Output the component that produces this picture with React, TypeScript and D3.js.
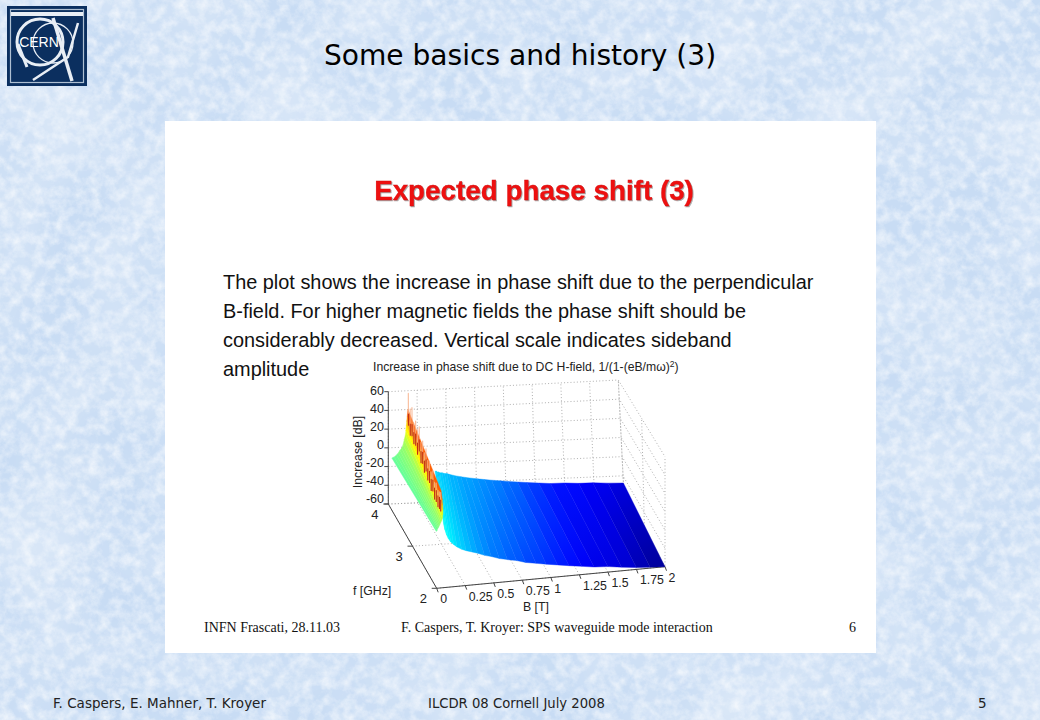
import React from 'react';
import * as d3 from 'd3';

// values
const bTicks = [0, 0.25, 0.5, 0.75, 1, 1.25, 1.5, 1.75, 2];
const fTicks = [2, 3, 4];
const zTicks = [-60, -40, -20, 0, 20, 40, 60];

// surface right of the resonance: one column per band, front edge f=2, back edge f=4
const tailBFront = [0.064, 0.075, 0.09, 0.105, 0.125, 0.15, 0.18, 0.22, 0.26, 0.31, 0.36, 0.42, 0.48, 0.55, 0.62, 0.7, 0.78, 0.87, 0.96, 1.06, 1.16, 1.27, 1.38, 1.5, 1.62, 1.75, 1.87, 2];
const tailZFront = [10, 3, -3, -7, -11, -14, -17, -20, -22, -24, -26, -29, -31, -34, -36, -38, -41, -43, -45, -47, -49, -51, -53, -54, -56, -58, -59, -60];
const tailBBack = [0.4, 0.41, 0.42, 0.43, 0.44, 0.46, 0.48, 0.5, 0.52, 0.55, 0.58, 0.62, 0.66, 0.71, 0.76, 0.82, 0.88, 0.95, 1.02, 1.1, 1.18, 1.28, 1.38, 1.5, 1.62, 1.74, 1.87, 2];
const tailZBack = [-27, -27, -28, -28, -29, -29, -30, -30, -31, -32, -33, -34, -35, -36, -37, -38, -39, -40, -41, -42, -43, -44, -45, -45, -46, -46, -47, -47.5];
const tailLevelBack = [-20, -20, -21, -21, -21, -22, -22, -23, -24, -24, -25, -26, -26, -27, -28, -29, -30, -32, -33, -36, -38, -41, -43, -44, -46, -47, -49];
const tailLevelFront = [-14, -14, -15, -16, -17, -18, -20, -21, -23, -25, -27, -29, -31, -32, -34, -35, -37, -38, -40, -42, -44, -46, -48, -49, -51, -55, -58];

// surface left of the resonance
const wingBBack = [0.03, 0.05, 0.07, 0.085, 0.1, 0.115, 0.127, 0.137, 0.147, 0.152, 0.156, 0.16, 0.164, 0.17];
const wingZBack = [-11, -10, -8, -6, -3, -1, 2.5, 8, 13, 18, 23, 28, 33, 40];
const wingBFront = [0, 0.006, 0.012, 0.018, 0.024, 0.03, 0.038, 0.046, 0.053, 0.056, 0.058, 0.056, 0.053, 0.044];
const wingZFront = [2, 3, 5, 6, 7.5, 9, 11, 13, 16, 20, 25, 30, 36, 46];
const wingLevels = [-3, -2, -1, 0, 1, 2, 4, 7, 11, 16, 21, 27, 34, 42];

// spikes along the resonance ridge
const spikeF = [3.98, 3.88, 3.78, 3.68, 3.58, 3.48, 3.38, 3.28, 3.18, 3.08, 2.98, 2.88, 2.78, 2.68, 2.58, 2.48, 2.38, 2.28, 2.18, 2.08];
const spikeB = [0.17, 0.165, 0.16, 0.155, 0.15, 0.145, 0.14, 0.134, 0.128, 0.122, 0.116, 0.11, 0.104, 0.098, 0.092, 0.086, 0.08, 0.074, 0.066, 0.056];
const spikeTop = [58, 46, 52, 40, 47, 42, 50, 38, 44, 36, 45, 37, 41, 34, 40, 32, 36, 33, 36, 40];
const spikeDark = [36, 30, 34, 30, 33, 28, 36, 28, 32, 27, 33, 28, 30, 26, 30, 26, 28, 27, 30, 32];

const bodyLines = [
  'The plot shows the increase in phase shift due to the perpendicular',
  'B-field. For higher magnetic fields the phase shift should be',
  'considerably decreased. Vertical scale indicates sideband',
  'amplitude',
];

const uScale = d3.scaleLinear().domain([0, 2]).range([0, 1]);
const vScale = d3.scaleLinear().domain([2, 4]).range([0, 1]);
const wScale = d3.scaleLinear().domain([-60, 60]).range([0, 1]);
const zLabelY = d3.scaleLinear().domain([-60, 60]).range([498.3, 390.7]);

const jet = d3.scaleLinear<string>()
  .domain([-60, -45, -15, 15, 45, 60])
  .range(['#00008f', '#0000ff', '#00ffff', '#ffff00', '#ff0000', '#800000']);

// box corners on the page: [B end][f end][z end]
const corners = [
  [[[436.7, 588.3], [436, 478.3]], [[388.3, 504], [388.3, 391.7]]],
  [[[665, 566.7], [665, 456.7]], [[624, 495], [618.3, 380]]],
];

const project = (b: number, f: number, z: number): [number, number] => {
  const u = uScale(b), v = vScale(f), w = wScale(z);
  const axis = (k: number) => {
    const lerp = (a: number, c: number, t: number) => a + (c - a) * t;
    const lo = lerp(lerp(corners[0][0][0][k], corners[1][0][0][k], u), lerp(corners[0][1][0][k], corners[1][1][0][k], u), v);
    const hi = lerp(lerp(corners[0][0][1][k], corners[1][0][1][k], u), lerp(corners[0][1][1][k], corners[1][1][1][k], u), v);
    return lerp(lo, hi, w);
  };
  return [axis(0), axis(1)];
};

const seg = d3.line();
const quad = (p: [number, number][]) => seg(p) + 'Z';

const sans = '"Liberation Sans", Arial, sans-serif';
const serif = '"Liberation Serif", "Times New Roman", serif';
const slideFont = '"DejaVu Sans", Verdana, sans-serif';

const App: React.FC = () => {
  const tailCols = d3.range(tailBFront.length - 1);
  const wingCols = d3.range(wingBBack.length - 1);
  const gridStyle = { stroke: '#9a9a9a', strokeWidth: 0.8, strokeDasharray: '1 2.2', fill: 'none' };

  return (
    <svg width={1040} height={720} viewBox="0 0 1040 720" style={{ position: 'absolute', left: 0, top: 0 }}>
      <defs>
        <filter id="paper" x="0" y="0" width="100%" height="100%">
          <feTurbulence type="fractalNoise" baseFrequency="0.09" numOctaves={5} seed={7} />
          <feColorMatrix type="matrix" values="0 0 0 0 1  0 0 0 0 1  0 0 0 0 1  1.2 0 0 0 -0.42" />
        </filter>
        <filter id="cloud" x="0" y="0" width="100%" height="100%">
          <feTurbulence type="fractalNoise" baseFrequency="0.012" numOctaves={2} seed={3} />
          <feColorMatrix type="matrix" values="0 0 0 0 1  0 0 0 0 1  0 0 0 0 1  0.6 0 0 0 -0.2" />
        </filter>
        {tailCols.map(i => {
          const a = project((tailBBack[i] + tailBBack[i + 1]) / 2, 4, tailZBack[i]);
          const c = project((tailBFront[i] + tailBFront[i + 1]) / 2, 2, tailZFront[i]);
          return (
            <linearGradient key={i} id={`tail${i}`} gradientUnits="userSpaceOnUse" x1={a[0]} y1={a[1]} x2={c[0]} y2={c[1]}>
              <stop offset="0" stopColor={jet(tailLevelBack[i])} />
              <stop offset="1" stopColor={jet(tailLevelFront[i])} />
            </linearGradient>
          );
        })}
      </defs>

      <rect width={1040} height={720} fill="#c8dcf4" />
      <rect width={1040} height={720} filter="url(#cloud)" />
      <rect width={1040} height={720} filter="url(#paper)" />

      {/* CERN logo */}
      <rect x={7} y={6} width={80} height={80} fill="#0b2f5f" />
      <rect x={10.5} y={9.5} width={73} height={73} fill="none" stroke="#aebfd2" strokeWidth={1.2} />
      <g fill="none" stroke="#e8eef5">
        <circle cx={40} cy={42} r={23} strokeWidth={3} />
        <circle cx={53} cy={43} r={20} strokeWidth={1.3} />
        <path d="M11 14H83" strokeWidth={4} />
        <path d="M53 18L72 81" strokeWidth={3.5} />
        <path d="M78 23L68 57L33 80" strokeWidth={2.5} />
        <path d="M18 44L27 67" strokeWidth={3} />
      </g>
      <text x={39} y={47} textAnchor="middle" fontFamily={sans} fontSize={14} fill="#fff">CERN</text>

      <text x={520} y={65} textAnchor="middle" fontFamily={slideFont} fontSize={28.1} fill="#000">Some basics and history (3)</text>

      <rect x={165} y={121} width={711} height={532} fill="#fff" />

      <text x={534} y={200} textAnchor="middle" fontFamily={sans} fontSize={27.8} fontWeight="bold" fill="#ee1010" stroke="#d01010" strokeWidth={0.3} style={{ filter: 'drop-shadow(1.5px 1.5px 0.6px #aaa)' }}>Expected phase shift (3)</text>

      {bodyLines.map((t, i) => (
        <text key={i} x={223} y={289 + i * 29} fontFamily={sans} fontSize={19.9} fill="#111">{t}</text>
      ))}

      <text x={373} y={371} fontFamily={sans} fontSize={12.2} fill="#222">
        Increase in phase shift due to DC H-field, 1/(1-(eB/mω)
        <tspan dy={-4} fontSize={8.5}>2</tspan>
        <tspan dy={4}>)</tspan>
      </text>

      {/* back wall, side wall and floor */}
      <g {...gridStyle}>
        {bTicks.map(b => (
          <path key={`bw${b}`} d={seg([project(b, 4, -60), project(b, 4, 60)]) ?? ''} />
        ))}
        {zTicks.map(z => (
          <path key={`zw${z}`} d={seg([project(0, 4, z), project(2, 4, z), project(2, 2, z)]) ?? ''} />
        ))}
        {fTicks.map(f => (
          <path key={`fw${f}`} d={seg([project(0, f, -60), project(2, f, -60), project(2, f, 60)]) ?? ''} />
        ))}
        {bTicks.map(b => (
          <path key={`bf${b}`} d={seg([project(b, 2, -60), project(b, 4, -60)]) ?? ''} />
        ))}
      </g>

      {/* axes */}
      <g fill="none" stroke="#444" strokeWidth={1}>
        <path d={seg([project(0, 4, 60), project(0, 4, -60), project(0, 2, -60), project(2, 2, -60)]) ?? ''} />
        {zTicks.map(z => {
          const p = project(0, 4, z);
          return <path key={z} d={`M${p[0]} ${p[1]}h-4`} />;
        })}
        {bTicks.map(b => {
          const p = project(b, 2, -60);
          return <path key={b} d={`M${p[0]} ${p[1]}l1.5 4`} />;
        })}
        {fTicks.map(f => {
          const p = project(0, f, -60);
          return <path key={f} d={`M${p[0]} ${p[1]}h-5`} />;
        })}
      </g>

      {/* surface */}
      {tailCols.map(i => {
        const pts: [number, number][] = [
          project(tailBBack[i], 4, tailZBack[i]),
          project(tailBBack[i + 1], 4, tailZBack[i + 1]),
          project(tailBFront[i + 1], 2, tailZFront[i + 1]),
          project(tailBFront[i], 2, tailZFront[i]),
        ];
        return <path key={i} d={quad(pts)} fill={`url(#tail${i})`} stroke={`url(#tail${i})`} strokeWidth={0.4} />;
      })}
      {wingCols.map(i => {
        const pts: [number, number][] = [
          project(wingBBack[i], 4, wingZBack[i]),
          project(wingBBack[i + 1], 4, wingZBack[i + 1]),
          project(wingBFront[i + 1], 2, wingZFront[i + 1]),
          project(wingBFront[i], 2, wingZFront[i]),
        ];
        return <path key={i} d={quad(pts)} fill={jet(wingLevels[i])} stroke={jet(wingLevels[i])} strokeWidth={0.4} />;
      })}
      {spikeF.map((f, i) => (
        <g key={i} fill="none" strokeLinecap="round">
          <path d={seg([project(spikeB[i], f, spikeDark[i] - 12), project(spikeB[i], f, spikeTop[i])]) ?? ''} stroke="#f8b08a" strokeWidth={1.2} opacity={0.8} />
          <path d={seg([project(spikeB[i], f, spikeDark[i] - 12), project(spikeB[i], f, spikeDark[i])]) ?? ''} stroke="#c0300f" strokeWidth={1.1} />
        </g>
      ))}

      {/* tick labels */}
      <g fontFamily={sans} fontSize={12.5} fill="#222">
        {zTicks.map(z => (
          <text key={z} x={384} y={zLabelY(z) + 4.3} textAnchor="end">{z}</text>
        ))}
        {bTicks.map(b => {
          const p = project(b, 2, -60);
          return <text key={b} x={p[0] + 3.5} y={p[1] + 15} fontSize={12.3}>{b}</text>;
        })}
        {fTicks.map(f => {
          const p = project(0, f, -60);
          return <text key={f} x={p[0] - 17} y={p[1] + 15} fontSize={13}>{f}</text>;
        })}
        <text transform="translate(362,452) rotate(-90)" textAnchor="middle" fontSize={12.3}>Increase [dB]</text>
        <text x={353} y={595} fontSize={12.3}>f [GHz]</text>
        <text x={523} y={611} fontSize={12.3}>B [T]</text>
      </g>

      {/* slide and page footers */}
      <g fontFamily={serif} fontSize={14} fill="#111">
        <text x={204} y={632}>INFN Frascati, 28.11.03</text>
        <text x={401} y={632}>F. Caspers, T. Kroyer: SPS waveguide mode interaction</text>
        <text x={849} y={632}>6</text>
      </g>
      <g fontFamily={slideFont} fontSize={13.5} fill="#222">
        <text x={53} y={708}>F. Caspers, E. Mahner, T. Kroyer</text>
        <text x={428} y={708} fontSize={13.2}>ILCDR 08 Cornell July 2008</text>
        <text x={978} y={708}>5</text>
      </g>
    </svg>
  );
};

export default App;
